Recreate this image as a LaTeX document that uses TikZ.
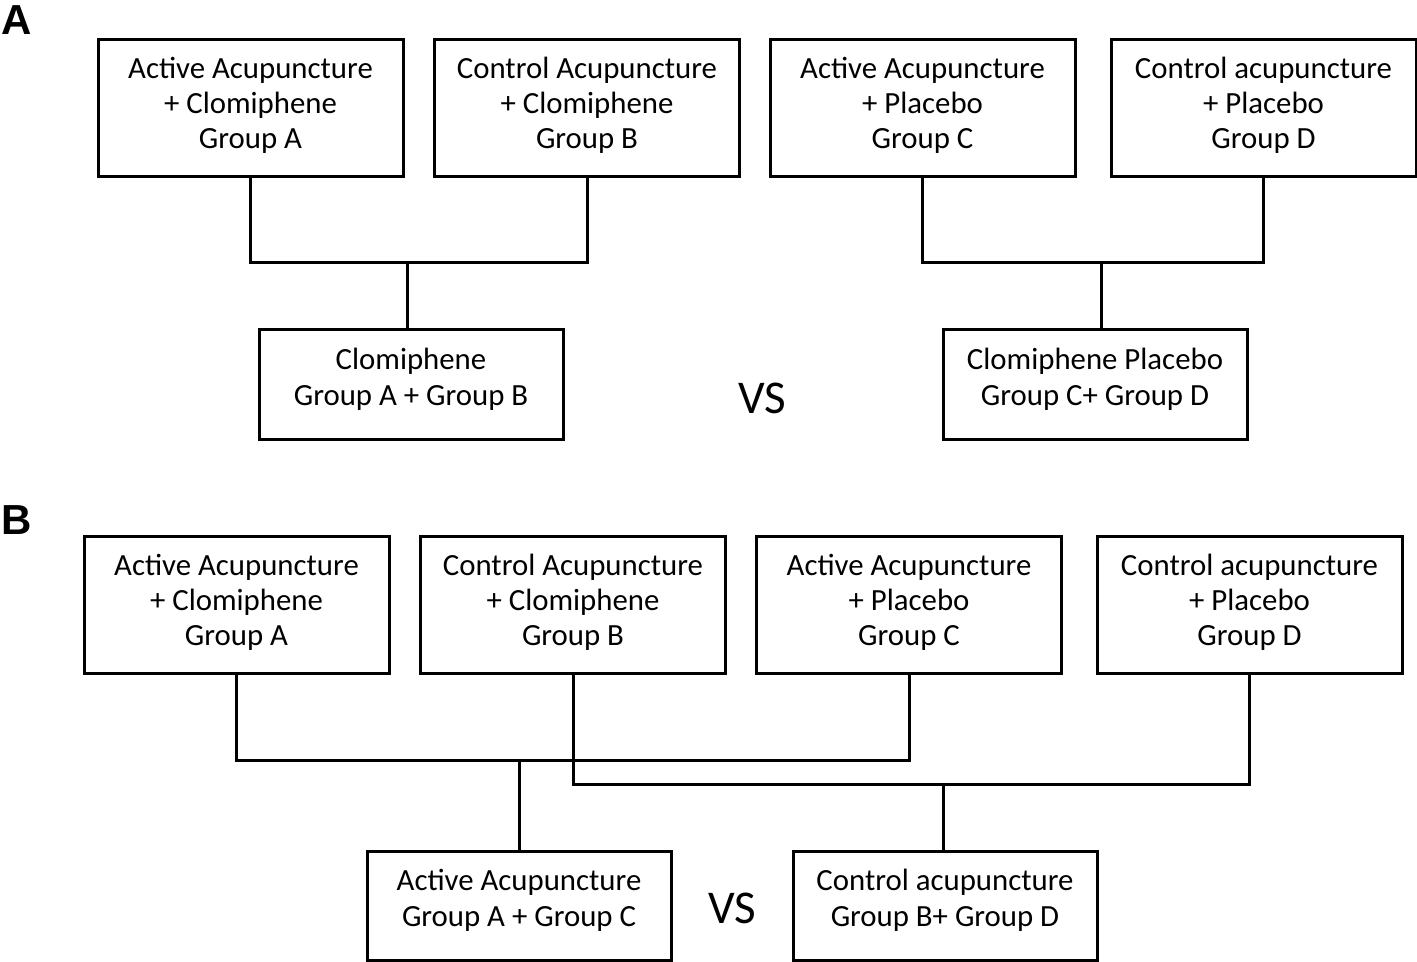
\documentclass[tikz,border=0pt]{standalone}
\usepackage{fontspec}
\setmainfont{Carlito}
\newfontfamily\labelfont{Liberation Sans}
\begin{document}
\begin{tikzpicture}[x=0.5pt,y=-0.5pt,
  box/.style={draw, line width=1.5pt, minimum width=152.5pt, minimum height=68.5pt, inner sep=0pt},
  sbox/.style={draw, line width=1.5pt, minimum width=152pt, minimum height=54.5pt, inner sep=0pt},
  txt/.style={align=center, inner sep=0pt, font=\fontsize{15.4}{17.5}\selectfont},
  stxt/.style={align=center, inner sep=0pt, font=\fontsize{15.4}{17.8}\selectfont},
  conn/.style={line width=1.5pt},
  vs/.style={font=\fontsize{23.5}{26}\selectfont},
  panel/.style={font=\labelfont\bfseries\fontsize{21}{24}\selectfont}]
\useasboundingbox (0,0) rectangle (1417,962);
% Panel A
\node[panel] (pA) at (17,20) {A};
\node[box] (a1) at (250.5,108.5) {};
\node[box] (a2) at (587,108.5) {};
\node[box] (a3) at (922.5,108.5) {};
\node[box] (a4) at (1263.5,108.5) {};
\node[txt] (a1t) at ([yshift=1.5pt]a1.center) {Active Acupuncture\\+ Clomiphene\\Group A};
\node[txt] (a2t) at ([yshift=1.5pt]a2.center) {Control Acupuncture\\+ Clomiphene\\Group B};
\node[txt] (a3t) at ([yshift=1.5pt]a3.center) {Active Acupuncture\\+ Placebo\\Group C};
\node[txt] (a4t) at ([yshift=1.5pt]a4.center) {Control acupuncture\\+ Placebo\\Group D};
\node[sbox] (al) at (411,384.5) {};
\node[sbox] (ar) at (1095,384.5) {};
\node[stxt] (alt) at ([yshift=2.5pt]al.center) {Clomiphene\\Group A + Group B};
\node[stxt] (art) at ([yshift=2.5pt]ar.center) {Clomiphene Placebo\\Group C+ Group D};
\node[vs] (vsA) at (762,398) {VS};
\coordinate (jA1) at (407,263);
\coordinate (jA2) at (1101,263);
\draw[conn] (a1.south) |- (jA1) -| (a2.south);
\draw[conn] (jA1) -- (jA1 |- al.north);
\draw[conn] (a3.south) |- (jA2) -| (a4.south);
\draw[conn] (jA2) -- (jA2 |- ar.north);
% Panel B
\node[panel] (pB) at (17,520) {B};
\node[box] (b1) at (236.5,605) {};
\node[box] (b2) at (573,605) {};
\node[box] (b3) at (909,605) {};
\node[box] (b4) at (1249.5,605) {};
\node[txt] (b1t) at ([yshift=1.5pt]b1.center) {Active Acupuncture\\+ Clomiphene\\Group A};
\node[txt] (b2t) at ([yshift=1.5pt]b2.center) {Control Acupuncture\\+ Clomiphene\\Group B};
\node[txt] (b3t) at ([yshift=1.5pt]b3.center) {Active Acupuncture\\+ Placebo\\Group C};
\node[txt] (b4t) at ([yshift=1.5pt]b4.center) {Control acupuncture\\+ Placebo\\Group D};
\node[sbox] (bl) at (519,905.5) {};
\node[sbox] (br) at (945,905.5) {};
\node[stxt] (blt) at ([yshift=2.5pt]bl.center) {Active Acupuncture\\Group A + Group C};
\node[stxt] (brt) at ([yshift=2.5pt]br.center) {Control acupuncture\\Group B+ Group D};
\node[vs] (vsB) at (732,908) {VS};
\coordinate (jB1) at (519,760);
\coordinate (jB2) at (943,784);
\draw[conn] (b1.south) |- (jB1) -| (b3.south);
\draw[conn] (jB1) -- (jB1 |- bl.north);
\draw[conn] (b2.south) |- (jB2) -| (b4.south);
\draw[conn] (jB2) -- (jB2 |- br.north);
\end{tikzpicture}
\end{document}
